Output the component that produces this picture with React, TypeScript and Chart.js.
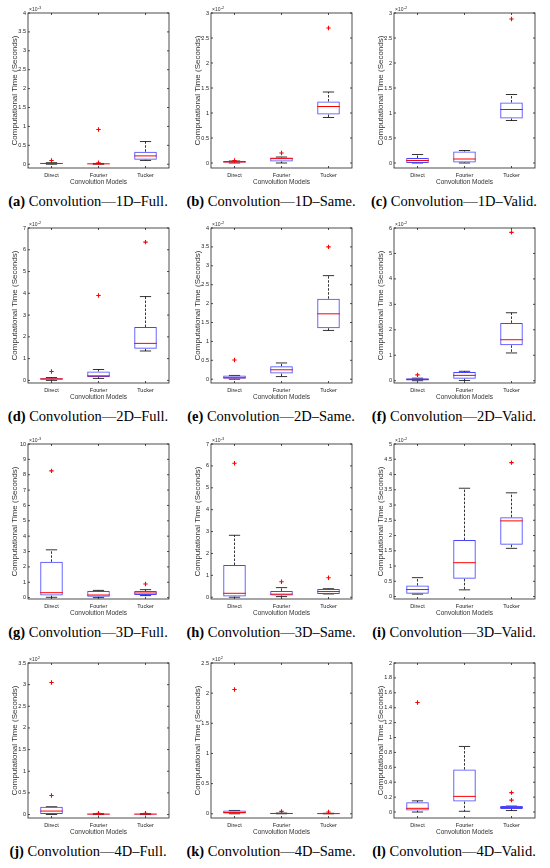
import React, { useEffect, useRef } from "react";
import { Chart, registerables } from "chart.js";

Chart.register(...registerables);

// ---------- data ----------
const CATEGORIES = ["Direct", "Fourier", "Tucker"];
const LETTERS = ["a", "b", "c", "d", "e", "f", "g", "h", "i", "j", "k", "l"];
const CAPTIONS = [
  "Convolution—1D–Full.",
  "Convolution—1D–Same.",
  "Convolution—1D–Valid.",
  "Convolution—2D–Full.",
  "Convolution—2D–Same.",
  "Convolution—2D–Valid.",
  "Convolution—3D–Full.",
  "Convolution—3D–Same.",
  "Convolution—3D–Valid.",
  "Convolution—4D–Full.",
  "Convolution—4D–Same.",
  "Convolution—4D–Valid.",
];
const Y_TITLE = "Computational Time (Seconds)";
const X_TITLE = "Convolution Models";
const EXPONENTS = ["-3", "-2", "-2", "-2", "-2", "-2", "-3", "-3", "-2", "2", "2", ""];

const Y_TICKS = [
  [0, 0.5, 1, 1.5, 2, 2.5, 3, 3.5, 4],
  [0, 0.5, 1, 1.5, 2, 2.5, 3],
  [0, 0.5, 1, 1.5, 2, 2.5, 3],
  [0, 1, 2, 3, 4, 5, 6, 7],
  [0, 0.5, 1, 1.5, 2, 2.5, 3, 3.5, 4],
  [0, 1, 2, 3, 4, 5, 6],
  [0, 1, 2, 3, 4, 5, 6, 7, 8, 9, 10],
  [0, 1, 2, 3, 4, 5, 6, 7],
  [0, 0.5, 1, 1.5, 2, 2.5, 3, 3.5, 4, 4.5, 5],
  [0, 0.5, 1, 1.5, 2, 2.5, 3, 3.5],
  [0, 0.5, 1, 1.5, 2, 2.5],
  [0, 0.2, 0.4, 0.6, 0.8, 1, 1.2, 1.4, 1.6, 1.8, 2],
];
const Y_MIN = [-0.1, -0.1, -0.1, -0.12, -0.1, -0.09, -0.09, -0.08, -0.08, -0.08, -0.07, -0.08];

// per panel: [Direct, Fourier, Tucker]
const LOWER = [
  [0, 0, 0.1],
  [0, 0, 0.91],
  [0, 0, 0.85],
  [0, 0.09, 1.35],
  [0, 0.07, 1.29],
  [0, 0.01, 1.09],
  [0.02, 0, 0.13],
  [0, 0.03, 0.15],
  [0.08, 0.22, 1.58],
  [0, 0, 0],
  [0, 0, 0],
  [0, 0.01, 0.02],
];
const Q1 = [
  [0.01, 0.005, 0.12],
  [0.01, 0.03, 0.97],
  [0, 0.01, 0.89],
  [0.03, 0.15, 1.45],
  [0.01, 0.15, 1.35],
  [0.01, 0.08, 1.39],
  [0.13, 0.06, 0.17],
  [0.03, 0.08, 0.15],
  [0.09, 0.58, 1.7],
  [0.01, 0.002, 0.002],
  [0.005, 0.002, 0.001],
  [0.02, 0.14, 0.04],
];
const MEDIAN = [
  [0.02, 0.01, 0.22],
  [0.02, 0.087, 1.13],
  [0.05, 0.08, 1.07],
  [0.07, 0.21, 1.7],
  [0.04, 0.25, 1.73],
  [0.05, 0.21, 1.61],
  [0.32, 0.17, 0.3],
  [0.18, 0.14, 0.26],
  [0.23, 1.11, 2.48],
  [0.08, 0.01, 0.01],
  [0.02, 0.005, 0.003],
  [0.05, 0.21, 0.06],
];
const Q3 = [
  [0.03, 0.015, 0.33],
  [0.04, 0.11, 1.23],
  [0.1, 0.23, 1.21],
  [0.1, 0.41, 2.45],
  [0.1, 0.34, 2.13],
  [0.1, 0.34, 2.27],
  [2.33, 0.43, 0.43],
  [1.47, 0.29, 0.38],
  [0.36, 1.85, 2.6],
  [0.18, 0.02, 0.02],
  [0.055, 0.012, 0.008],
  [0.13, 0.57, 0.08],
];
const UPPER = [
  [0.04, 0.02, 0.6],
  [0.04, 0.12, 1.42],
  [0.17, 0.25, 1.37],
  [0.13, 0.5, 3.85],
  [0.1, 0.43, 2.74],
  [0.1, 0.37, 2.67],
  [3.11, 0.47, 0.52],
  [2.83, 0.44, 0.39],
  [0.62, 3.55, 3.4],
  [0.18, 0.02, 0.02],
  [0.055, 0.012, 0.008],
  [0.15, 0.88, 0.08],
];
const OUTLIERS = [
  [[0.1], [0.92, 0.04], []],
  [[0.05], [0.2], [2.7]],
  [[], [], [2.88]],
  [[0.41], [3.9], [6.35]],
  [[0.51], [], [3.5]],
  [[0.23], [], [5.83]],
  [[8.25], [], [0.89]],
  [[6.12], [0.71], [0.89]],
  [[], [], [4.39]],
  [[3.05, 0.44], [0.03], [0.03]],
  [[2.06], [0.04], [0.03]],
  [[1.47], [], [0.26, 0.16]],
];

// ---------- styling ----------
const BLUE = "rgb(70,70,255)";
const RED = "rgb(255,0,0)";
const SANS = '"Liberation Sans", Arial, sans-serif';
const COL_X = [0, 183, 366];
const ROW_Y = [0, 215, 431, 650];
const CELL_W = 183;
const CANVAS_H = 190;

const boxPlugin = {
  id: "boxExtras",
  beforeDatasetsDraw(chart: any, _a: any, opts: any) {
    const { ctx } = chart;
    const x = chart.scales.x;
    const y = chart.scales.y;
    const meta = chart.getDatasetMeta(0);
    ctx.save();
    ctx.strokeStyle = "#000";
    ctx.lineWidth = 0.8;
    opts.lower.forEach((lo: number, i: number) => {
      const bar = meta.data[i];
      const cx = x.getPixelForValue(i);
      const half = bar.width / 2;
      const cap = half / 2;
      ctx.setLineDash([2.5, 1.5]);
      ctx.beginPath();
      ctx.moveTo(cx, y.getPixelForValue(opts.q3[i]));
      ctx.lineTo(cx, y.getPixelForValue(opts.upper[i]));
      ctx.moveTo(cx, y.getPixelForValue(opts.q1[i]));
      ctx.lineTo(cx, y.getPixelForValue(lo));
      ctx.stroke();
      ctx.setLineDash([]);
      ctx.beginPath();
      const yu = y.getPixelForValue(opts.upper[i]);
      const yl = y.getPixelForValue(lo);
      ctx.moveTo(cx - cap, yu);
      ctx.lineTo(cx + cap, yu);
      ctx.moveTo(cx - cap, yl);
      ctx.lineTo(cx + cap, yl);
      ctx.stroke();
    });
    ctx.restore();
  },
  afterDatasetDraw(chart: any, args: any, opts: any) {
    if (args.index !== 0) return;
    const { ctx } = chart;
    const x = chart.scales.x;
    const y = chart.scales.y;
    const meta = chart.getDatasetMeta(0);
    ctx.save();
    ctx.strokeStyle = RED;
    ctx.lineWidth = 1;
    opts.median.forEach((m: number, i: number) => {
      const bar = meta.data[i];
      const cx = x.getPixelForValue(i);
      const half = bar.width / 2;
      const py = y.getPixelForValue(m);
      ctx.beginPath();
      ctx.moveTo(cx - half, py);
      ctx.lineTo(cx + half, py);
      ctx.stroke();
    });
    ctx.restore();
  },
  afterDraw(chart: any, _a: any, opts: any) {
    const { ctx, chartArea } = chart;
    const { left, right, top, bottom } = chartArea;
    const x = chart.scales.x;
    const y = chart.scales.y;
    ctx.save();
    ctx.strokeStyle = "#222";
    ctx.lineWidth = 0.8;
    ctx.strokeRect(left, top, right - left, bottom - top);
    ctx.beginPath();
    y.ticks.forEach((t: any) => {
      const py = y.getPixelForValue(t.value);
      ctx.moveTo(left, py);
      ctx.lineTo(left + 2, py);
      ctx.moveTo(right, py);
      ctx.lineTo(right - 2, py);
    });
    CATEGORIES.forEach((_c, i) => {
      const px = x.getPixelForValue(i);
      ctx.moveTo(px, bottom);
      ctx.lineTo(px, bottom - 2);
      ctx.moveTo(px, top);
      ctx.lineTo(px, top + 2);
    });
    ctx.stroke();
    if (opts.exponent) {
      ctx.fillStyle = "#333";
      ctx.textBaseline = "alphabetic";
      ctx.font = `5px ${SANS}`;
      const base = "×10";
      ctx.fillText(base, left + 1, top - 2);
      const w = ctx.measureText(base).width;
      ctx.font = `4px ${SANS}`;
      ctx.fillText(opts.exponent, left + 1 + w + 0.3, top - 4.5);
    }
    ctx.restore();
  },
};

function Panel({ idx }: { idx: number }) {
  const ref = useRef<HTMLCanvasElement | null>(null);
  useEffect(() => {
    if (!ref.current) return;
    const ticks = Y_TICKS[idx];
    const outlierPoints: { x: string; y: number }[] = [];
    OUTLIERS[idx].forEach((list, i) =>
      list.forEach((v) => outlierPoints.push({ x: CATEGORIES[i], y: v }))
    );
    const chart = new Chart(ref.current, {
      type: "bar",
      data: {
        labels: CATEGORIES,
        datasets: [
          {
            type: "bar",
            data: CATEGORIES.map((_c, i) => [Q1[idx][i], Q3[idx][i]]) as any,
            backgroundColor: "rgba(0,0,0,0)",
            borderColor: BLUE,
            borderWidth: 1,
            borderSkipped: false,
            barPercentage: 0.48,
            categoryPercentage: 1,
            order: 2,
          },
          {
            type: "line",
            data: outlierPoints as any,
            showLine: false,
            pointStyle: "cross",
            pointRadius: 2.2,
            pointBorderWidth: 1.1,
            pointBorderColor: outlierPoints.map(() => RED),
            pointBackgroundColor: outlierPoints.map(() => RED),
            pointHoverBorderColor: RED,
            borderColor: RED,
            backgroundColor: RED,
            clip: false,
            order: 1,
          } as any,
        ],
      },
      options: {
        responsive: false,
        animation: false,
        events: [],
        layout: { padding: { left: 0, right: 14, top: 13, bottom: 0 } },
        plugins: {
          legend: { display: false },
          tooltip: { enabled: false },
          boxExtras: {
            lower: LOWER[idx],
            q1: Q1[idx],
            median: MEDIAN[idx],
            q3: Q3[idx],
            upper: UPPER[idx],
            exponent: EXPONENTS[idx],
          },
        } as any,
        scales: {
          x: {
            type: "category",
            offset: true,
            grid: { display: false, drawTicks: false },
            border: { display: false },
            ticks: {
              font: { family: SANS, size: 5.5 },
              color: "#222",
              padding: 4,
              maxRotation: 0,
              autoSkip: false,
            },
            title: {
              display: true,
              text: X_TITLE,
              font: { family: SANS, size: 6.5 },
              color: "#333",
              padding: { top: 0, bottom: 3.5 },
            },
            afterFit: (s: any) => {
              s.height = 22;
            },
          },
          y: {
            type: "linear",
            min: Y_MIN[idx],
            max: ticks[ticks.length - 1],
            grid: { display: false, drawTicks: false },
            border: { display: false },
            afterBuildTicks: (s: any) => {
              s.ticks = ticks.map((v) => ({ value: v }));
            },
            ticks: {
              font: { family: SANS, size: 5.5 },
              color: "#222",
              padding: 2,
              autoSkip: false,
              callback: (v: any) => String(v),
            },
            title: {
              display: true,
              text: Y_TITLE,
              font: { family: SANS, size: 8 },
              color: "#333",
              padding: { top: 10, bottom: 0 },
            },
            afterFit: (s: any) => {
              s.width = 28;
            },
          },
        },
      } as any,
      plugins: [boxPlugin as any],
    });
    return () => chart.destroy();
  }, [idx]);

  const row = Math.floor(idx / 3);
  const col = idx % 3;
  return (
    <div
      style={{
        position: "absolute",
        left: COL_X[col],
        top: ROW_Y[row],
        width: CELL_W,
        height: 214,
      }}
    >
      <canvas
        ref={ref}
        width={CELL_W}
        height={CANVAS_H}
        style={{ width: CELL_W, height: CANVAS_H, display: "block" }}
      />
      <div
        style={{
          position: "absolute",
          left: 0,
          top: CANVAS_H,
          width: 176,
          textAlign: "center",
          fontFamily: '"Liberation Serif", "Times New Roman", serif',
          fontSize: 14.5,
          lineHeight: "22px",
          whiteSpace: "nowrap",
          color: "#000",
        }}
      >
        <b>({LETTERS[idx]})</b> {CAPTIONS[idx]}
      </div>
    </div>
  );
}

export default function App() {
  return (
    <div
      style={{
        position: "absolute",
        left: 0,
        top: 0,
        width: 550,
        height: 868,
        background: "#fff",
        overflow: "hidden",
      }}
    >
      {CAPTIONS.map((_c, i) => (
        <Panel key={i} idx={i} />
      ))}
    </div>
  );
}
